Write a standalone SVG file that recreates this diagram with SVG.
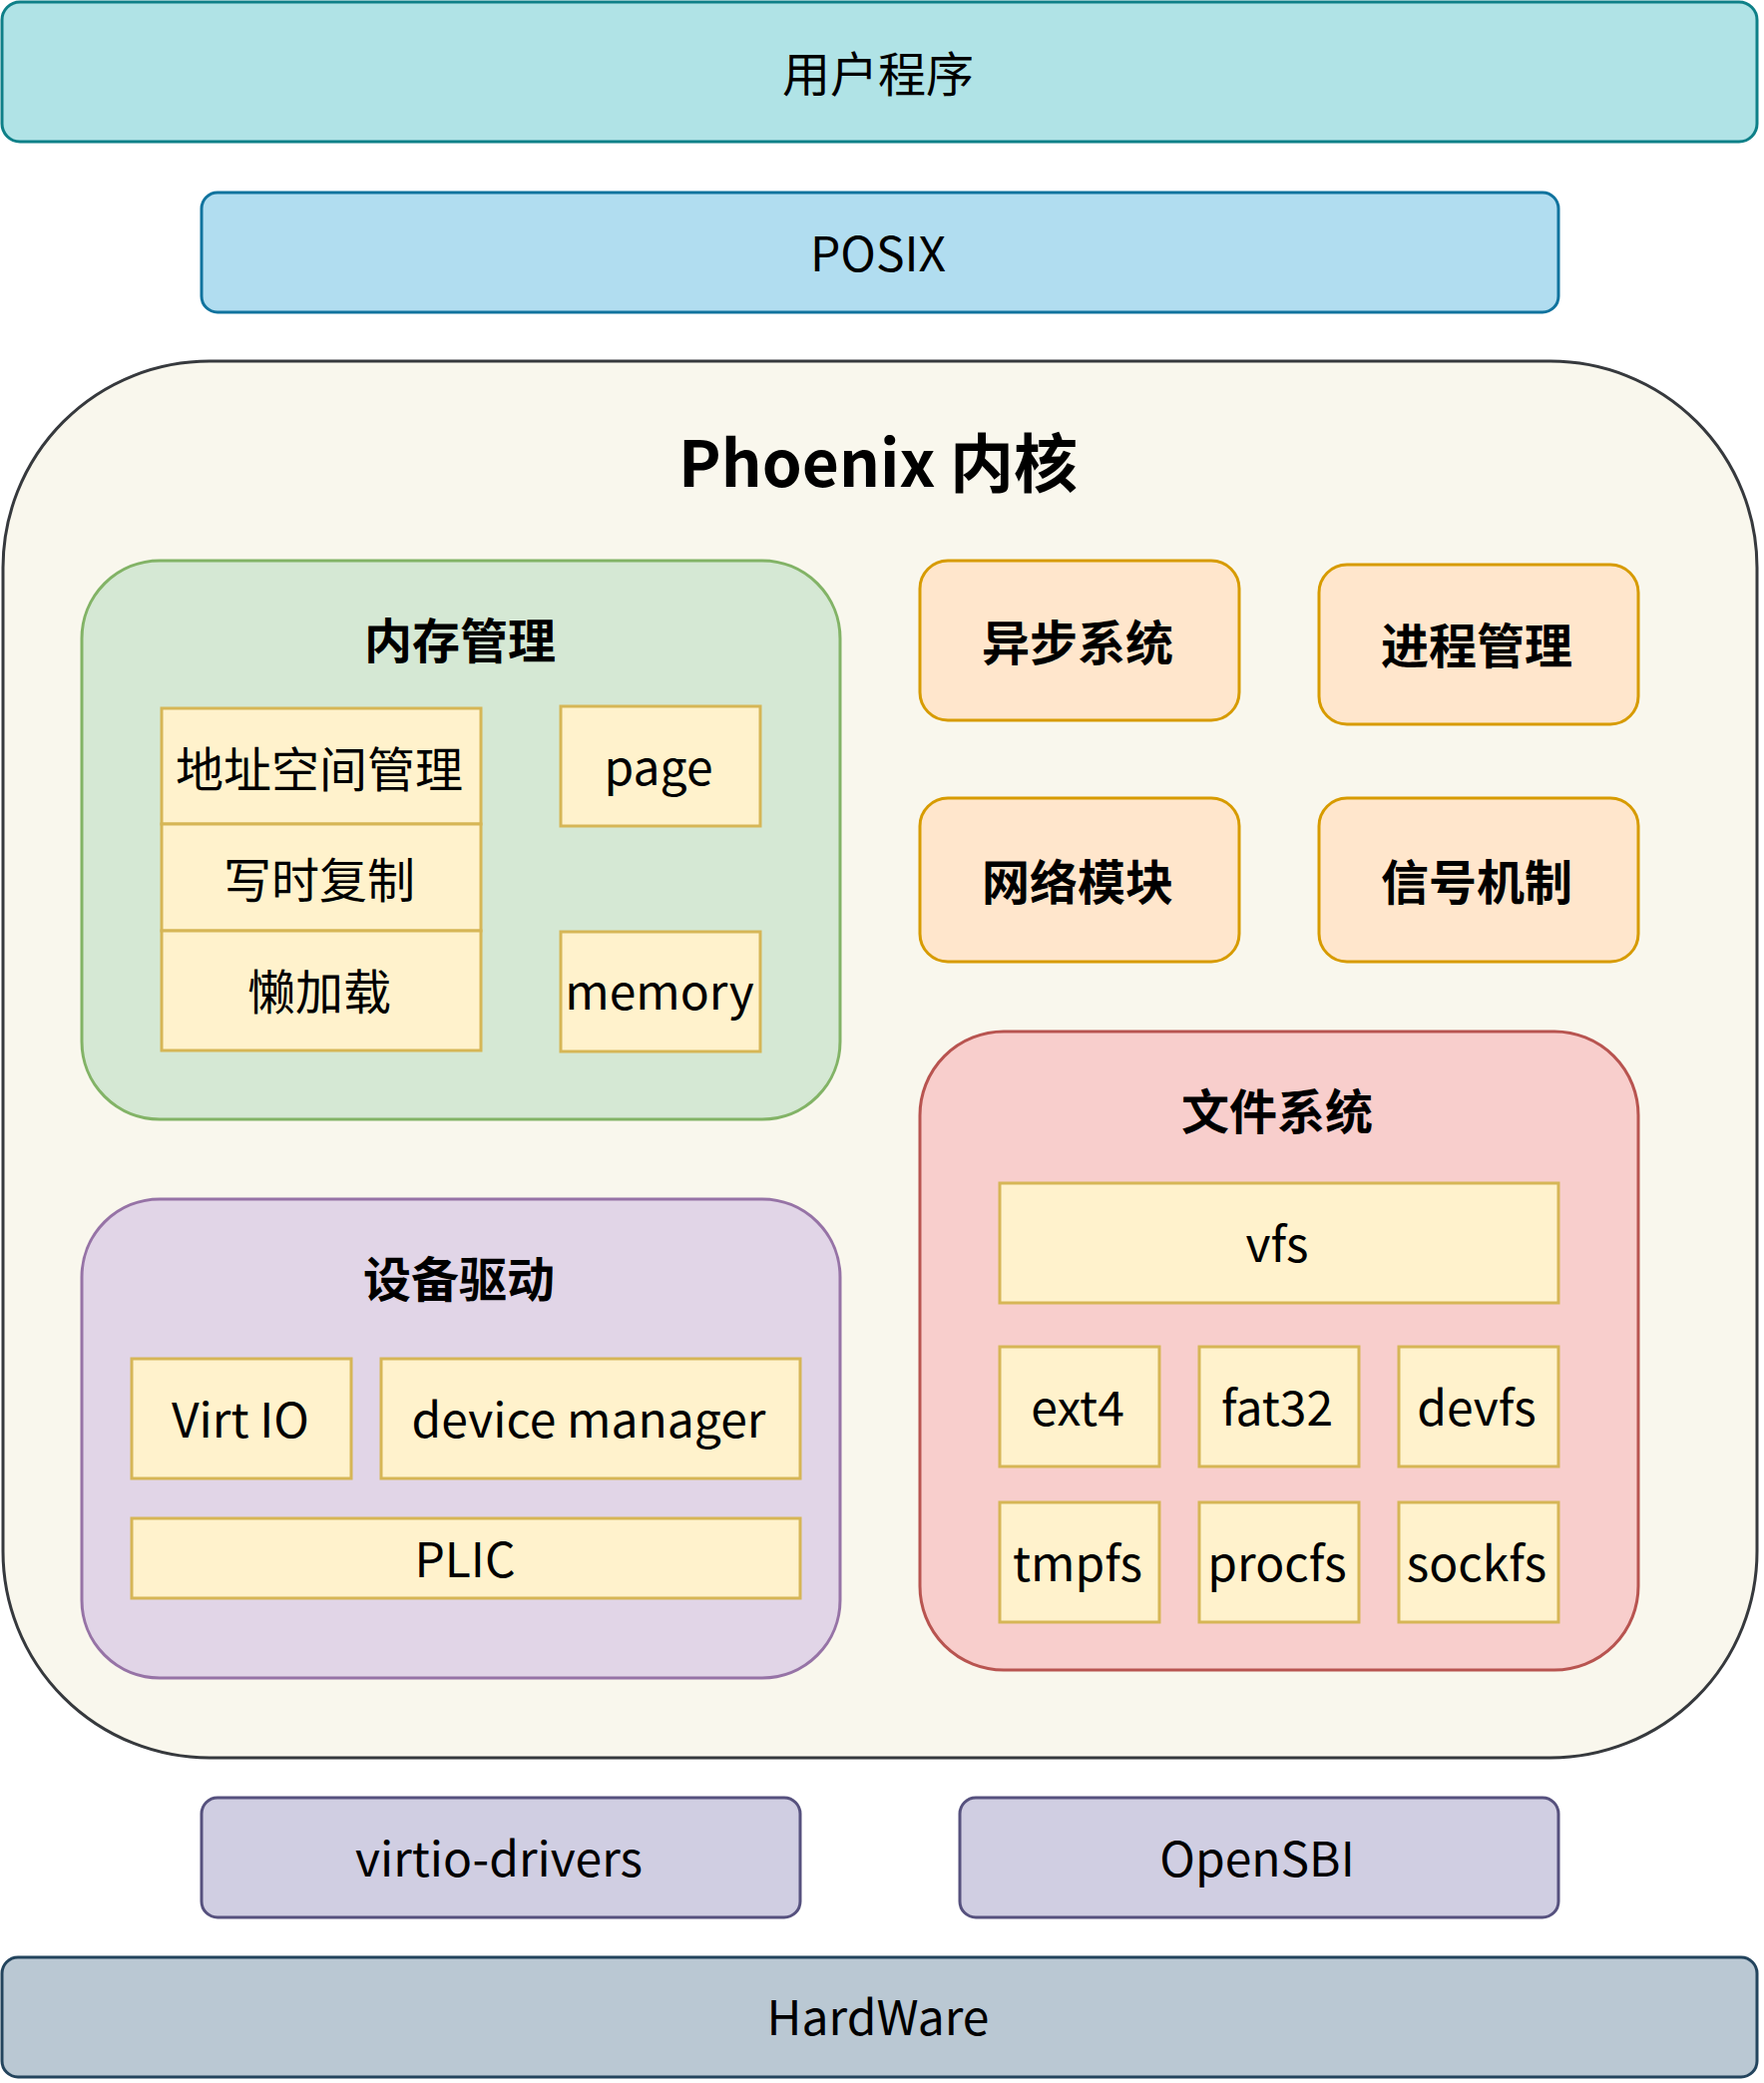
<svg xmlns="http://www.w3.org/2000/svg" width="1768" height="2088" viewBox="0 0 1768 2088">
<style>
text{font-family:"Noto Sans CJK SC","Noto Sans",sans-serif;font-size:48px;fill:#000;text-anchor:middle}
.b{font-weight:bold}
.t{font-size:64px;font-weight:bold}
rect{stroke-width:3}
.app{fill:#b0e3e6;stroke:#0e8088}
.posix{fill:#b1ddf0;stroke:#10739e}
.kern{fill:#f9f7ed;stroke:#36393d}
.mem{fill:#d5e8d4;stroke:#82b366}
.dev{fill:#e1d5e7;stroke:#9673a6}
.fs{fill:#f8cecc;stroke:#b85450}
.mod{fill:#ffe6cc;stroke:#d79b00}
.y{fill:#fff2cc;stroke:#d6b656}
.low{fill:#d0cee2;stroke:#56517e}
.hw{fill:#bac8d3;stroke:#23445d}
</style>
<g id="app"><rect class="app" x="2" y="2" width="1759" height="140" rx="18"/><text x="880" y="92">用户程序</text></g>
<g id="posix"><rect class="posix" x="202" y="193" width="1360" height="120" rx="16"/><text x="880" y="272">POSIX</text></g>
<g id="kernel"><rect class="kern" x="3" y="362" width="1758" height="1400" rx="207"/><text class="t" x="880" y="488">Phoenix 内核</text></g>
<g id="mem"><rect class="mem" x="82" y="562" width="760" height="560" rx="78"/><text class="b" x="461" y="660">内存管理</text></g>
<g id="addr"><rect class="y" x="162" y="710" width="320" height="116"/><text x="320" y="789">地址空间管理</text></g>
<g id="cow"><rect class="y" x="162" y="826" width="320" height="107"/><text x="320" y="900">写时复制</text></g>
<g id="lazy"><rect class="y" x="162" y="933" width="320" height="120"/><text x="320" y="1012">懒加载</text></g>
<g id="page"><rect class="y" x="562" y="708" width="200" height="120"/><text x="660" y="787">page</text></g>
<g id="memory"><rect class="y" x="562" y="934" width="200" height="120"/><text x="661" y="1012">memory</text></g>
<g id="async"><rect class="mod" x="922" y="562" width="320" height="160" rx="28"/><text class="b" x="1080" y="662">异步系统</text></g>
<g id="proc"><rect class="mod" x="1322" y="566" width="320" height="160" rx="28"/><text class="b" x="1480" y="665">进程管理</text></g>
<g id="net"><rect class="mod" x="922" y="800" width="320" height="164" rx="28"/><text class="b" x="1080" y="902">网络模块</text></g>
<g id="signal"><rect class="mod" x="1322" y="800" width="320" height="164" rx="28"/><text class="b" x="1480" y="902">信号机制</text></g>
<g id="devdrv"><rect class="dev" x="82" y="1202" width="760" height="480" rx="78"/><text class="b" x="460" y="1300">设备驱动</text></g>
<g id="virtio"><rect class="y" x="132" y="1362" width="220" height="120"/><text x="241" y="1441">Virt IO</text></g>
<g id="devmgr"><rect class="y" x="382" y="1362" width="420" height="120"/><text x="590" y="1441">device manager</text></g>
<g id="plic"><rect class="y" x="132" y="1522" width="670" height="80"/><text x="466" y="1581">PLIC</text></g>
<g id="fs"><rect class="fs" x="922" y="1034" width="720" height="640" rx="84"/><text class="b" x="1280" y="1132">文件系统</text></g>
<g id="vfs"><rect class="y" x="1002" y="1186" width="560" height="120"/><text x="1280" y="1265">vfs</text></g>
<g id="ext4"><rect class="y" x="1002" y="1350" width="160" height="120"/><text x="1080" y="1429">ext4</text></g>
<g id="fat32"><rect class="y" x="1202" y="1350" width="160" height="120"/><text x="1280" y="1429">fat32</text></g>
<g id="devfs"><rect class="y" x="1402" y="1350" width="160" height="120"/><text x="1480" y="1429">devfs</text></g>
<g id="tmpfs"><rect class="y" x="1002" y="1506" width="160" height="120"/><text x="1080" y="1585">tmpfs</text></g>
<g id="procfs"><rect class="y" x="1202" y="1506" width="160" height="120"/><text x="1280" y="1585">procfs</text></g>
<g id="sockfs"><rect class="y" x="1402" y="1506" width="160" height="120"/><text x="1480" y="1585">sockfs</text></g>
<g id="virtio-drivers"><rect class="low" x="202" y="1802" width="600" height="120" rx="16"/><text x="500" y="1881">virtio-drivers</text></g>
<g id="opensbi"><rect class="low" x="962" y="1802" width="600" height="120" rx="16"/><text x="1260" y="1881">OpenSBI</text></g>
<g id="hardware"><rect class="hw" x="2" y="1962" width="1759" height="120" rx="16"/><text x="880" y="2040">HardWare</text></g>
<g id="connectors"></g>
</svg>
